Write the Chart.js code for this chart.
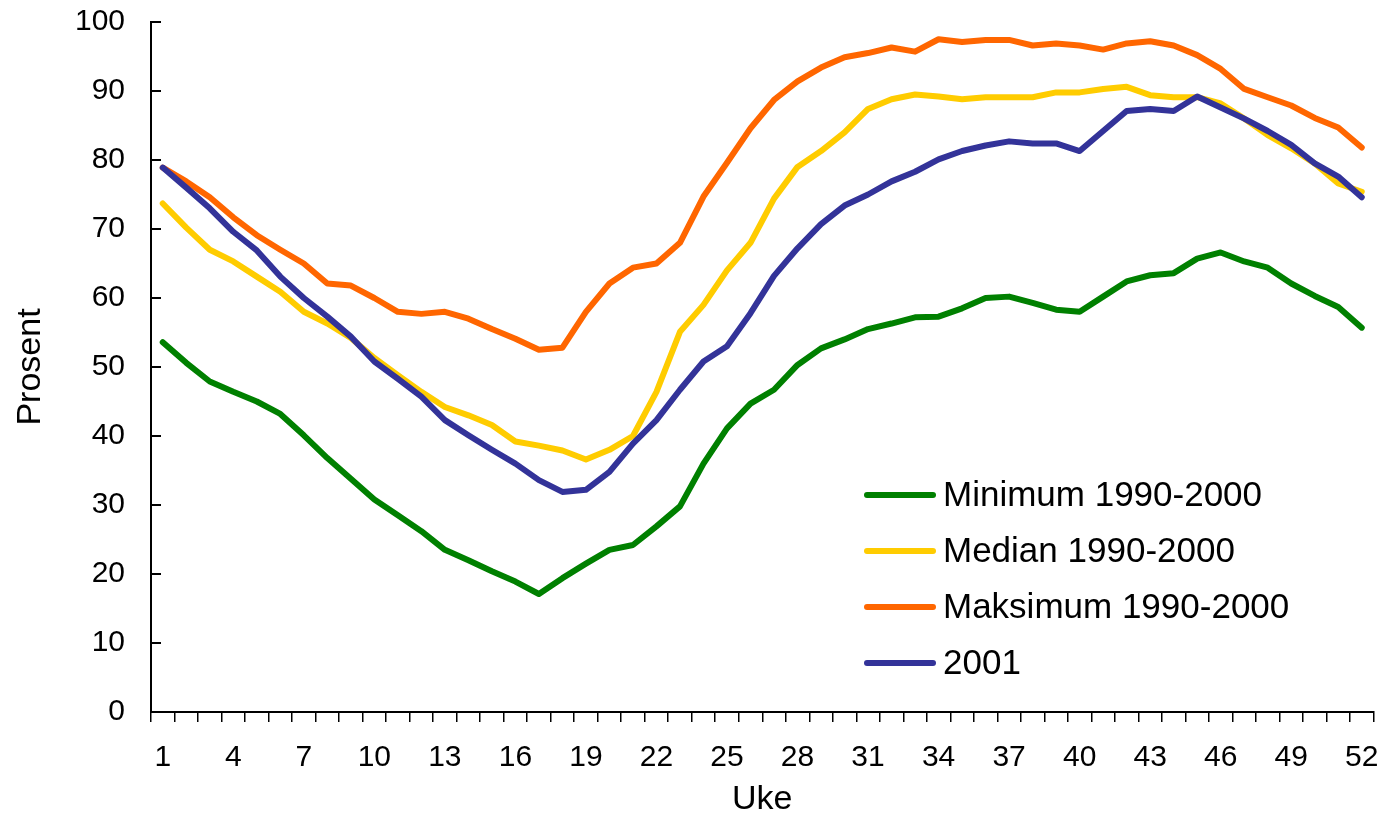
<!DOCTYPE html>
<html>
<head>
<meta charset="utf-8">
<script src="https://cdn.jsdelivr.net/npm/chart.js@4/dist/chart.umd.min.js"></script>
<style>
html,body{margin:0;padding:0;background:#fff;}
#wrap{width:1384px;height:817px;}
</style>
</head>
<body>
<div id="wrap"><canvas id="c" width="1384" height="817"></canvas></div>
<script>
const weeks = Array.from({length: 52}, (_, i) => String(i + 1));
const yTicks = [0,10,20,30,40,50,60,70,80,90,100];

const minimum = [53.6,50.6,47.9,46.4,45.0,43.2,40.1,36.8,33.8,30.8,28.5,26.2,23.5,22.0,20.4,18.9,17.1,19.4,21.5,23.5,
  24.2,26.9,29.8,36.0,41.1,44.7,46.7,50.3,52.7,54.0,55.5,56.3,57.2,57.3,58.5,60.0,60.2,59.3,58.3,58.0,
  60.2,62.4,63.3,63.6,65.7,66.6,65.3,64.4,62.1,60.3,58.7,55.7];
const median = [73.7,70.2,67.0,65.3,63.1,60.9,58.0,56.3,54.2,51.3,48.8,46.4,44.2,43.0,41.6,39.2,38.6,37.9,36.6,38.0,
  40.0,46.4,55.1,59.0,64.0,68.0,74.4,79.0,81.3,84.0,87.4,88.8,89.5,89.2,88.8,89.1,89.1,89.1,89.8,89.8,
  90.3,90.6,89.4,89.1,89.1,88.2,86.0,83.6,81.7,79.5,76.6,75.4];
const maksimum = [78.9,76.9,74.6,71.7,69.1,67.0,65.0,62.1,61.8,60.0,58.0,57.7,58.0,57.0,55.5,54.1,52.5,52.8,58.0,62.1,
  64.4,65.0,68.0,74.7,79.6,84.6,88.7,91.4,93.4,94.9,95.5,96.3,95.7,97.5,97.1,97.4,97.4,96.6,96.9,96.6,
  96.0,96.9,97.2,96.6,95.2,93.2,90.3,89.1,87.9,86.1,84.7,81.8];
const y2001 = [78.9,76.0,73.0,69.6,66.9,63.1,60.0,57.3,54.4,50.8,48.3,45.7,42.3,40.1,38.0,36.0,33.6,31.9,32.2,34.8,
  38.9,42.3,46.7,50.8,53.0,57.8,63.2,67.2,70.7,73.4,75.0,76.9,78.3,80.1,81.3,82.1,82.7,82.4,82.4,81.3,
  84.2,87.1,87.4,87.1,89.2,87.6,86.0,84.2,82.2,79.5,77.6,74.6];

const seriesLabels = ['Minimum 1990-2000','Median 1990-2000','Maksimum 1990-2000','2001'];
const seriesColors = ['#008000','#FFCC00','#FF6600','#333399'];

Chart.defaults.font.family = "'Liberation Sans', Arial, sans-serif";
Chart.defaults.color = '#000';

function ds(label, data, color, order){
  return {label, data, borderColor: color, backgroundColor: color, borderWidth: 6,
    pointRadius: 0, pointHoverRadius: 0, tension: 0, fill: false, order,
    borderJoinStyle: 'round', borderCapStyle: 'round'};
}

const innerYTicks = {
  id: 'innerYTicks',
  beforeDatasetsDraw(chart){
    const s = chart.scales.y, ctx = chart.ctx, left = chart.chartArea.left;
    ctx.save();
    ctx.strokeStyle = '#000'; ctx.lineWidth = 2;
    s.ticks.forEach((t, i) => {
      const py = Math.round(s.getPixelForTick(i));
      ctx.beginPath(); ctx.moveTo(left, py); ctx.lineTo(left + 10, py); ctx.stroke();
    });
    ctx.restore();
  }
};

const customLegend = {
  id: 'customLegend',
  afterDraw(chart){
    const ctx = chart.ctx, ca = chart.chartArea;
    const x0 = ca.left + 716, y0 = ca.top + 473, gap = 56;
    ctx.save();
    ctx.font = "35px 'Liberation Sans', Arial, sans-serif";
    ctx.textBaseline = 'middle'; ctx.textAlign = 'left';
    chart.data.datasets.forEach((d, i) => {
      const y = y0 + i * gap;
      ctx.strokeStyle = d.borderColor; ctx.lineWidth = 6; ctx.lineCap = 'round';
      ctx.beginPath(); ctx.moveTo(x0, y); ctx.lineTo(x0 + 66, y); ctx.stroke();
      ctx.fillStyle = '#000';
      ctx.fillText(d.label, x0 + 76, y + 1);
    });
    ctx.restore();
  }
};

new Chart(document.getElementById('c'), {
  type: 'line',
  data: {
    labels: weeks,
    datasets: [
      ds(seriesLabels[0], minimum, seriesColors[0], 3),
      ds(seriesLabels[1], median, seriesColors[1], 2),
      ds(seriesLabels[2], maksimum, seriesColors[2], 1),
      ds(seriesLabels[3], y2001, seriesColors[3], 0)
    ]
  },
  options: {
    responsive: false,
    animation: false,
    layout: {padding: {left: 0, right: 10.5, top: 22, bottom: 0}},
    plugins: {legend: {display: false}, tooltip: {enabled: false}},
    scales: {
      x: {
        type: 'category',
        offset: true,
        grid: {offset: true, drawOnChartArea: false, drawTicks: true, tickLength: 10, color: '#000', lineWidth: 1.5},
        border: {display: true, color: '#000', width: 2},
        ticks: {
          autoSkip: false, maxRotation: 0, minRotation: 0, padding: 18,
          font: {size: 30},
          callback: function(v, i){ return (i % 3 === 0) ? weeks[i] : ''; }
        },
        title: {display: true, text: 'Uke', font: {size: 34}, padding: {top: 0, bottom: -3}},
        afterFit(s){ s.height = 105; s.paddingLeft = 0; s.paddingRight = 0; }
      },
      y: {
        min: 0, max: 100,
        afterBuildTicks(s){ s.ticks = yTicks.map(v => ({value: v})); },
        grid: {drawOnChartArea: false, drawTicks: false},
        border: {display: true, color: '#000', width: 2},
        ticks: {padding: 26, font: {size: 30}},
        title: {display: true, text: 'Prosent', font: {size: 34}, padding: {top: 10, bottom: 0}},
        afterFit(s){ s.width = 151; s.paddingTop = 0; s.paddingBottom = 0; }
      }
    }
  },
  plugins: [innerYTicks, customLegend]
});
</script>
</body>
</html>
